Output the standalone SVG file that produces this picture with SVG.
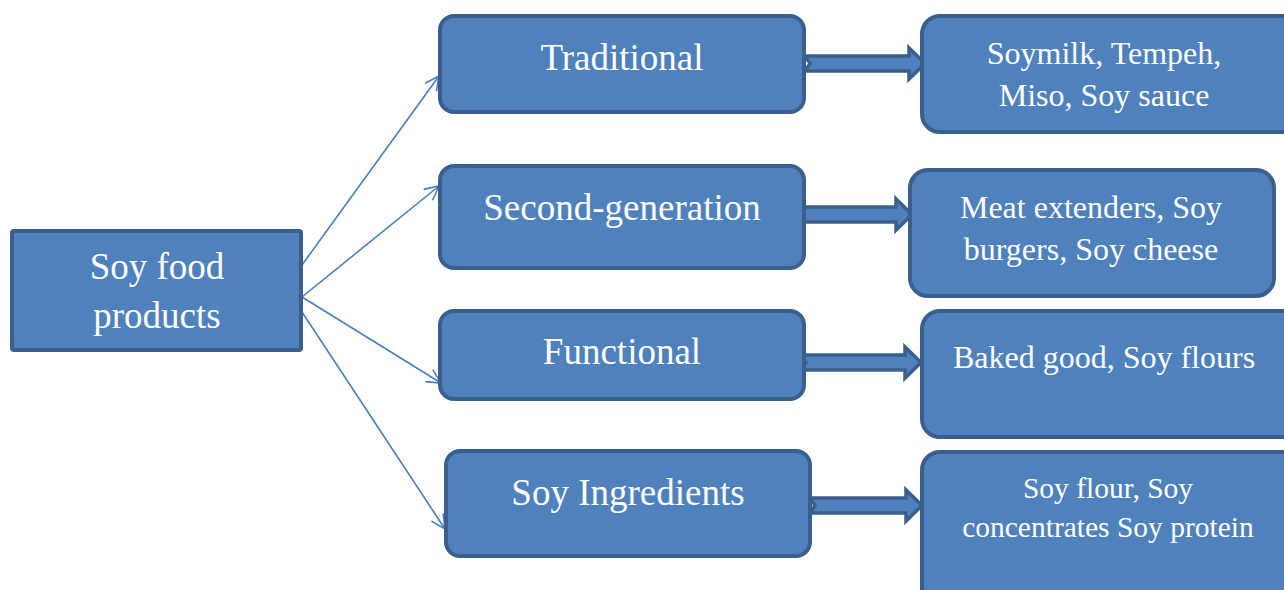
<svg xmlns="http://www.w3.org/2000/svg" width="1284" height="590" viewBox="0 0 1284 590">
<defs>
<style>
.box{fill:#4f81bd;stroke:#3a5f8c;stroke-width:4}
.t{fill:#ffffff;font-family:"Liberation Serif","Times New Roman",serif;text-anchor:middle}
.big{font-size:37px}
.sm{font-size:32px}
.xs{font-size:29.5px}
.ln{stroke:#4a7ebb;stroke-width:1.6;fill:none}
.blk{fill:#4f81bd;stroke:#3a5f8c;stroke-width:3.5;stroke-linejoin:miter}
</style>
<marker id="open" viewBox="0 0 20 20" refX="17" refY="10" markerWidth="20" markerHeight="20" markerUnits="userSpaceOnUse" orient="auto">
<polyline points="3,3 17,10 3,17" fill="none" stroke="#4a7ebb" stroke-width="1.6"/>
</marker>
</defs>
<rect width="1284" height="590" fill="#ffffff"/>
<g id="connectors">
<line class="ln" x1="302" y1="265" x2="439" y2="76" marker-end="url(#open)"/>
<line class="ln" x1="302" y1="297" x2="439" y2="186" marker-end="url(#open)"/>
<line class="ln" x1="302" y1="297" x2="441" y2="383" marker-end="url(#open)"/>
<line class="ln" x1="302" y1="312" x2="445" y2="529" marker-end="url(#open)"/>
<path class="blk" d="M805,56 L909,56 L909,48 L925,63.5 L909,79 L909,71 L805,71 L810,63.5 Z"/>
<path class="blk" d="M793,207 L896,207 L896,199 L912,214.5 L896,230 L896,222 L793,222 L798,214.5 Z"/>
<path class="blk" d="M801,355 L905,355 L905,347 L921,362.5 L905,378 L905,370 L801,370 L806,362.5 Z"/>
<path class="blk" d="M810,498 L906,498 L906,490 L922,505.5 L906,521 L906,513 L810,513 L815,505.5 Z"/>
</g>
<g id="n-root">
<rect class="box" x="12" y="231" width="289" height="119" rx="2"/>
<text class="t big" x="157" y="279">Soy food</text>
<text class="t big" x="157" y="328">products</text>
</g>
<g id="n-traditional">
<rect class="box" x="440" y="16" width="364" height="96" rx="14"/>
<text class="t big" x="622" y="70">Traditional</text>
</g>
<g id="n-second">
<rect class="box" x="440" y="166" width="364" height="102" rx="14"/>
<text class="t big" x="622" y="220">Second-generation</text>
</g>
<g id="n-functional">
<rect class="box" x="440" y="311" width="364" height="88" rx="14"/>
<text class="t big" x="622" y="364">Functional</text>
</g>
<g id="n-ingredients">
<rect class="box" x="446" y="451" width="364" height="105" rx="14"/>
<text class="t big" x="628" y="505">Soy Ingredients</text>
</g>
<g id="n-trad-products">
<rect class="box" x="922" y="16" width="380" height="116" rx="18"/>
<text class="t sm" x="1104" y="64">Soymilk, Tempeh,</text>
<text class="t sm" x="1104" y="106">Miso, Soy sauce</text>
</g>
<g id="n-second-products">
<rect class="box" x="910" y="170" width="364" height="126" rx="18"/>
<text class="t sm" x="1091" y="218">Meat extenders, Soy</text>
<text class="t sm" x="1091" y="260">burgers, Soy cheese</text>
</g>
<g id="n-func-products">
<rect class="box" x="922" y="311" width="380" height="126" rx="18"/>
<text class="t sm" x="1104" y="368">Baked good, Soy flours</text>
</g>
<g id="n-ingr-products">
<rect class="box" x="922" y="452" width="380" height="160" rx="18"/>
<text class="t xs" x="1108" y="498">Soy flour, Soy</text>
<text class="t xs" x="1108" y="537">concentrates Soy protein</text>
</g>
</svg>
